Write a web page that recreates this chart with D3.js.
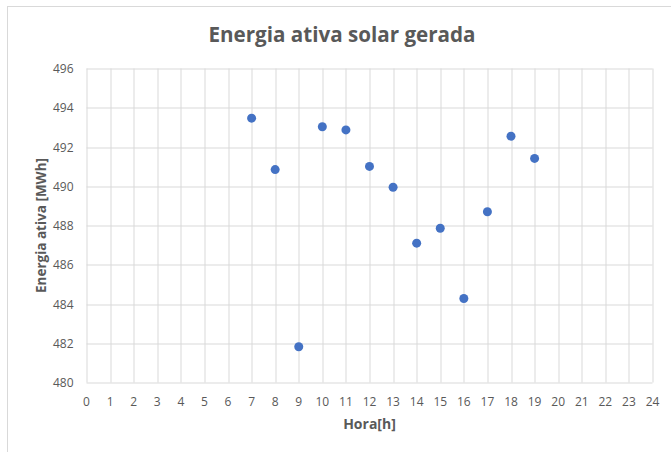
<!DOCTYPE html>
<html>
<head>
<meta charset="utf-8">
<script src="https://cdn.jsdelivr.net/npm/d3@7"></script>
<style>
  body { margin: 0; background: #fff; }
  text { font-family: "Open Sans", sans-serif; fill: #595959; }
</style>
</head>
<body>
<div id="chart"></div>
<script>
// Data
const hours = [7, 8, 9, 10, 11, 12, 13, 14, 15, 16, 17, 18, 19];
const energy = [493.47, 490.85, 481.82, 493.03, 492.87, 491.01, 489.95, 487.1, 487.86, 484.28, 488.7, 492.55, 491.42];
const xTicks = d3.range(0, 25, 1);
const yTicks = [480, 482, 484, 486, 488, 490, 492, 494, 496];

const W = 671, H = 452;
const margin = { top: 68.5, right: 18.5, bottom: 69.5, left: 86.5 };
const width = W - margin.left - margin.right;
const height = H - margin.top - margin.bottom;

const svg = d3.select("#chart").append("svg")
    .attr("width", W)
    .attr("height", H);

// chart outer border (runs off the page right/bottom)
svg.append("rect")
    .attr("x", 7.5).attr("y", 6.5)
    .attr("width", W + 10).attr("height", H + 10)
    .attr("fill", "none")
    .attr("stroke", "#d9d9d9");

const g = svg.append("g")
    .attr("transform", `translate(${margin.left}, ${margin.top})`);

const x = d3.scaleLinear().domain([0, 24]).range([0, width]);
const y = d3.scaleLinear().domain([480, 496]).range([height, 0]);

// gridlines
g.append("g")
    .selectAll("line.v")
    .data(xTicks)
    .join("line")
    .attr("x1", d => Math.round(x(d)) + 0.5).attr("x2", d => Math.round(x(d)) + 0.5)
    .attr("y1", 0).attr("y2", height)
    .attr("stroke", "#d9d9d9");

g.append("g")
    .selectAll("line.h")
    .data(yTicks)
    .join("line")
    .attr("x1", 0).attr("x2", width)
    .attr("y1", d => Math.round(y(d)) + 0.5).attr("y2", d => Math.round(y(d)) + 0.5)
    .attr("stroke", "#d9d9d9");

// tick labels
g.append("g")
    .selectAll("text")
    .data(yTicks)
    .join("text")
    .attr("x", -13)
    .attr("y", d => y(d) + 4.5)
    .attr("text-anchor", "end")
    .style("font-size", "12px")
    .text(d => d);

g.append("g")
    .selectAll("text")
    .data(xTicks)
    .join("text")
    .attr("x", d => x(d))
    .attr("y", height + 23)
    .attr("text-anchor", "middle")
    .style("font-size", "12px")
    .text(d => d);

// points
g.selectAll("circle")
    .data(hours)
    .join("circle")
    .attr("cx", (d, i) => x(d))
    .attr("cy", (d, i) => y(energy[i]))
    .attr("r", 4.5)
    .attr("fill", "#4472c4");

// titles
svg.append("text")
    .attr("x", 342)
    .attr("y", 42)
    .attr("text-anchor", "middle")
    .style("font-size", "20.6px")
    .style("font-weight", "bold")
    .text("Energia ativa solar gerada");

svg.append("text")
    .attr("x", margin.left + width / 2)
    .attr("y", 429)
    .attr("text-anchor", "middle")
    .style("font-size", "14px")
    .style("font-weight", "bold")
    .text("Hora[h]");

svg.append("text")
    .attr("transform", `translate(46, ${margin.top + height / 2}) rotate(-90)`)
    .attr("text-anchor", "middle")
    .style("font-size", "13.5px")
    .style("font-weight", "bold")
    .text("Energia ativa [MWh]");
</script>
</body>
</html>
